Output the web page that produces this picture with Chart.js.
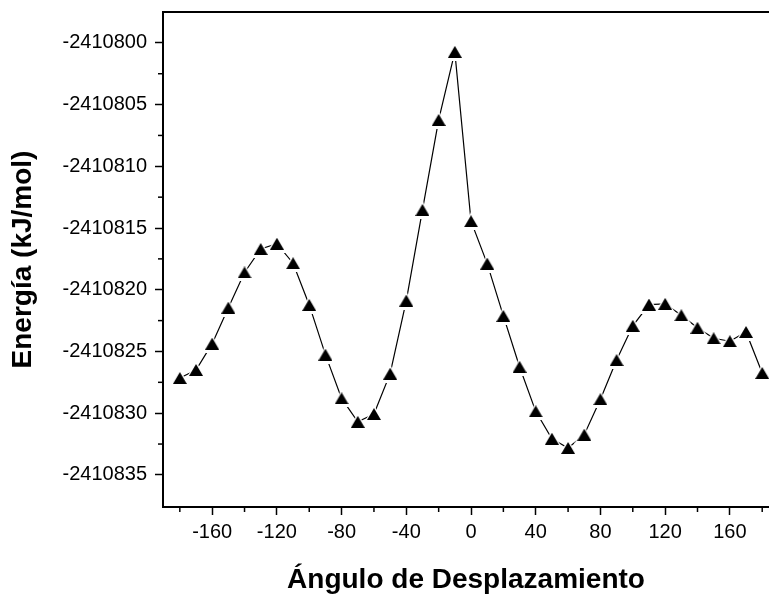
<!DOCTYPE html>
<html>
<head>
<meta charset="utf-8">
<title>Energía vs Ángulo de Desplazamiento</title>
<script src="https://cdn.jsdelivr.net/npm/chart.js@4.4.1/dist/chart.umd.min.js"></script>
<style>
  html, body { margin: 0; padding: 0; background: #fff; overflow: hidden; }
  canvas { display: block; }
</style>
</head>
<body>
<canvas id="chart" width="769" height="597"></canvas>
<script>
// scan angles (degrees) and energies (kJ/mol)
const angles = [
  -180, -170, -160, -150, -140, -130, -120, -110, -100, -90,
  -80, -70, -60, -50, -40, -30, -20, -10, 0, 10,
  20, 30, 40, 50, 60, 70, 80, 90, 100, 110,
  120, 130, 140, 150, 160, 170, 180
];
const energies = [
  -2410827.15, -2410826.5, -2410824.37, -2410821.45, -2410818.6, -2410816.7, -2410816.27, -2410817.85, -2410821.23, -2410825.26,
  -2410828.8, -2410830.7, -2410830.07, -2410826.8, -2410820.88, -2410813.53, -2410806.24, -2410800.73, -2410814.45, -2410817.88,
  -2410822.12, -2410826.24, -2410829.85, -2410832.07, -2410832.82, -2410831.74, -2410828.87, -2410825.7, -2410822.92, -2410821.2,
  -2410821.14, -2410822.07, -2410823.08, -2410823.93, -2410824.17, -2410823.42, -2410826.74
];

const xTicks = [-160, -120, -80, -40, 0, 40, 80, 120, 160];
const yTicks = [-2410835, -2410830, -2410825, -2410820, -2410815, -2410810, -2410805, -2410800];

const FONT = "'Liberation Sans', Arial, sans-serif";

// filled triangle marker, centred on its bounding box
function triangle(w, h, color) {
  const c = document.createElement("canvas");
  c.width = w;
  c.height = h;
  const g = c.getContext("2d");
  g.fillStyle = color;
  g.beginPath();
  g.moveTo(w / 2, 0);
  g.lineTo(w, h);
  g.lineTo(0, h);
  g.closePath();
  g.fill();
  return c;
}

const points = angles.map((a, i) => ({ x: a, y: energies[i] }));

// top frame line + half-step minor ticks
const axisFrame = {
  id: "axisFrame",
  afterDraw(chart) {
    const { ctx, chartArea, scales } = chart;
    ctx.save();
    ctx.strokeStyle = "#000";
    ctx.lineWidth = 2;
    ctx.beginPath();
    ctx.moveTo(chartArea.left - 1, chartArea.top);
    ctx.lineTo(chartArea.right, chartArea.top);
    ctx.stroke();

    ctx.lineWidth = 1.5;
    const minors = (scale, ticks) => {
      const step = ticks[1] - ticks[0];
      const out = [];
      for (let v = ticks[0] - step / 2; v <= scale.max; v += step) {
        if (v >= scale.min) out.push(scale.getPixelForValue(v));
      }
      return out;
    };
    const bottom = chartArea.bottom;
    minors(scales.x, xTicks).forEach(px => {
      if (px < chartArea.left + 3 || px > chartArea.right - 1) return;
      ctx.beginPath();
      ctx.moveTo(px, bottom);
      ctx.lineTo(px, bottom + 5);
      ctx.stroke();
    });
    const left = chartArea.left;
    minors(scales.y, yTicks).forEach(py => {
      if (py < chartArea.top + 3 || py > bottom - 3) return;
      ctx.beginPath();
      ctx.moveTo(left, py);
      ctx.lineTo(left - 5, py);
      ctx.stroke();
    });
    ctx.restore();
  }
};

Chart.defaults.color = "#000";
Chart.defaults.font.family = FONT;

new Chart(document.getElementById("chart"), {
  type: "line",
  data: {
    datasets: [
      {
        // connecting line, with white marks that open a small gap at each point
        data: points,
        borderColor: "#000",
        borderWidth: 1.2,
        pointStyle: triangle(20, 18, "#fff"),
        pointRadius: 1,
        tension: 0,
        order: 2,
      },
      {
        data: points,
        showLine: false,
        pointStyle: triangle(14, 12, "#000"),
        pointRadius: 1,
        order: 1,
      },
    ],
  },
  options: {
    responsive: false,
    animation: false,
    events: [],
    layout: { autoPadding: false, padding: { top: 12, left: 0, right: 0, bottom: 0 } },
    plugins: {
      legend: { display: false },
      tooltip: { enabled: false },
    },
    scales: {
      x: {
        type: "linear",
        min: -190.4,
        max: 184.2,
        afterBuildTicks: s => { s.ticks = xTicks.map(v => ({ value: v })); },
        afterFit: s => {
          s.height = 90;
          s.paddingLeft = 0;
          s.paddingRight = 0;
        },
        grid: {
          drawOnChartArea: false,
          drawTicks: true,
          tickLength: 8,
          tickWidth: 1.5,
          tickColor: "#000",
        },
        border: { display: true, color: "#000", width: 2 },
        ticks: {
          padding: 5,
          maxRotation: 0,
          font: { size: 20 },
          callback: v => String(v),
        },
        title: {
          display: true,
          text: "Ángulo de Desplazamiento",
          font: { size: 28, weight: "bold" },
          padding: { top: 0, bottom: 0 },
        },
      },
      y: {
        type: "linear",
        min: -2410837.6,
        max: -2410797.5,
        afterBuildTicks: s => { s.ticks = yTicks.map(v => ({ value: v })); },
        afterFit: s => {
          s.width = 163;
          s.paddingTop = 0;
          s.paddingBottom = 0;
        },
        grid: {
          drawOnChartArea: false,
          drawTicks: true,
          tickLength: 8,
          tickWidth: 1.5,
          tickColor: "#000",
        },
        border: { display: true, color: "#000", width: 2 },
        ticks: {
          padding: 8,
          font: { size: 20 },
          callback: v => String(v),
        },
        title: {
          display: true,
          text: "Energía (kJ/mol)",
          font: { size: 28, weight: "bold" },
          padding: { top: 6, bottom: 0 },
        },
      },
    },
  },
  plugins: [axisFrame],
});
</script>
</body>
</html>
